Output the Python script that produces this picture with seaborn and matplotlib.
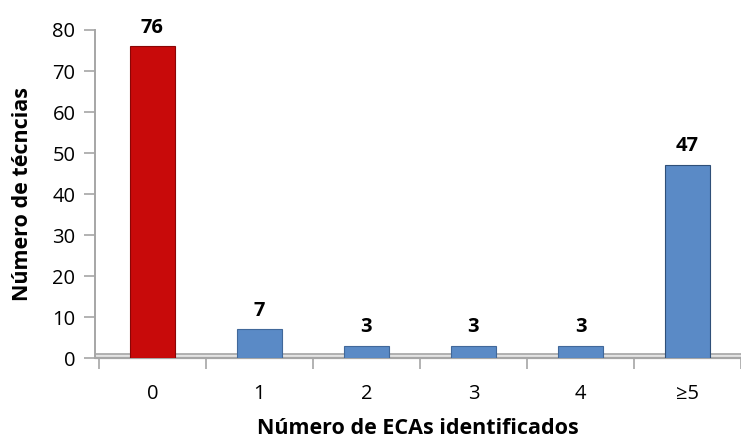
import numpy as np
import pandas as pd
import matplotlib.pyplot as plt
import seaborn as sns

# Data
categories = ["0", "1", "2", "3", "4", "≥5"]
counts = [76, 7, 3, 3, 3, 47]
bar_colors = ["#C80A0A", "#5A8AC6", "#5A8AC6", "#5A8AC6", "#5A8AC6", "#5A8AC6"]
edge_colors = ["#8A0606", "#41689A", "#41689A", "#41689A", "#41689A", "#2F4F78"]

df = pd.DataFrame({"eca": categories, "n": counts})

sns.set_style("white")
plt.rcParams["font.family"] = ["Open Sans", "DejaVu Sans"]
plt.rcParams["text.color"] = "black"
plt.rcParams["xtick.labelcolor"] = "black"
plt.rcParams["ytick.labelcolor"] = "black"
plt.rcParams["axes.labelcolor"] = "black"

fig = plt.figure(figsize=(7.41, 4.41), dpi=100)
ax = fig.add_axes([0.128, 0.188, 0.872, 0.744])

sns.barplot(data=df, x="eca", y="n", hue="eca", palette=bar_colors,
            order=categories, hue_order=categories, legend=False,
            width=0.42, saturation=1, ax=ax, zorder=3)

for patch, ec in zip(ax.patches, edge_colors):
    patch.set_edgecolor(ec)
    patch.set_linewidth(0.8)

# value labels
for i, v in enumerate(counts):
    ax.text(i, v + 4.6, str(v), ha="center", va="center",
            fontsize=14.5, fontweight="bold", color="black")

# 3D-style floor
ax.axhspan(0, 1.1, color="#E4E4E4", zorder=1)
ax.axhline(0, color="#A6A6A6", lw=1.6, zorder=2, clip_on=False)
ax.axhline(1.1, color="#A6A6A6", lw=1.2, zorder=2)

ax.set_ylim(0, 80)
ax.set_xlim(-0.537, 5.455)
ax.set_yticks(range(0, 81, 10))
ax.tick_params(axis="y", labelsize=14.5, length=8, width=1.2, color="#A6A6A6",
               labelcolor="black", direction="out", left=True, pad=6)
ax.set_xticks(range(len(categories)))
ax.set_xticklabels(categories)
ax.tick_params(axis="x", which="major", length=0, labelsize=14.5,
               labelcolor="black", pad=19)
ax.set_xticks(np.arange(-0.5, 5.6, 1.0), minor=True)
ax.tick_params(axis="x", which="minor", length=8, width=1.2, color="#A6A6A6",
               direction="out", bottom=True)

for s in ["top", "right", "bottom"]:
    ax.spines[s].set_visible(False)
ax.spines["left"].set_color("#A6A6A6")
ax.spines["left"].set_linewidth(1.4)

ax.set_xlabel("Número de ECAs identificados", fontsize=15.5,
              fontweight="bold", labelpad=10, color="black")
ax.set_ylabel("Número de técncias", fontsize=15.5, fontweight="bold",
              labelpad=14, color="black")

fig.savefig("out.png", dpi=100)
